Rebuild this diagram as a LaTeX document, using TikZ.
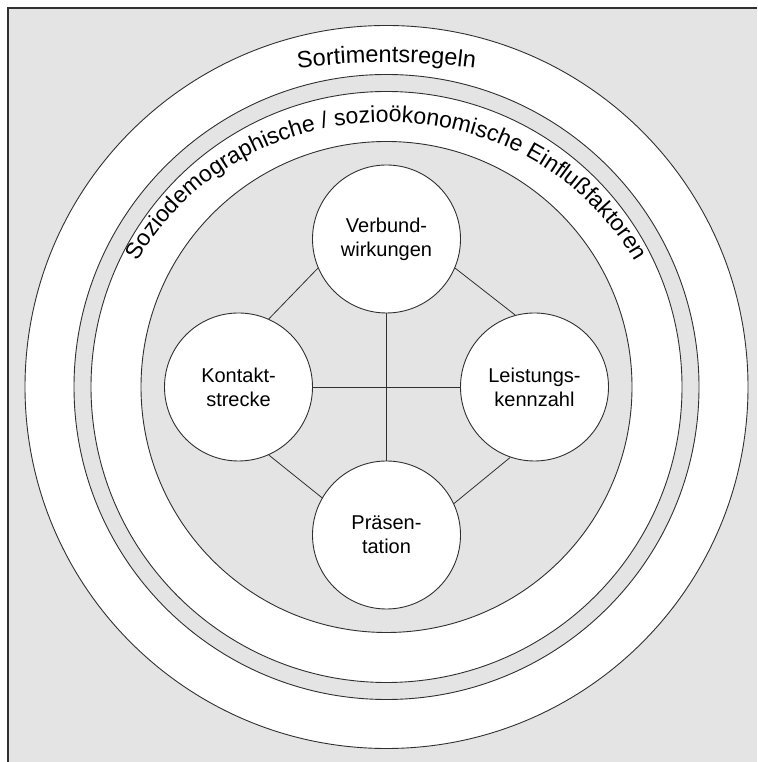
\documentclass[tikz,border=0pt]{standalone}
\usepackage{fontspec}
\setmainfont{Liberation Sans}
\usetikzlibrary{decorations.text}
\definecolor{panel}{HTML}{E4E4E4}
\definecolor{rim}{HTML}{303030}
\begin{document}
\begin{tikzpicture}[x=1pt,y=1pt,
  ring/.style={draw=rim, line width=0.9pt},
  topic/.style={circle, draw=rim, line width=0.9pt, fill=white,
    minimum size=148pt, inner sep=0pt, align=center,
    font=\fontsize{20}{24}\selectfont},
  link/.style={draw=rim, line width=0.8pt}]
\useasboundingbox (0,0) rectangle (757,762);
% grey panel with its left and top border
\fill[panel] (8,0) rectangle (757,754);
\draw[rim, line width=1.2pt] (8,0) -- (8,754) -- (757,754);
\coordinate (c) at (386.5,375);
% concentric rings
\draw[ring, fill=white] (c) circle[radius=361.5];
\draw[ring, fill=panel] (c) circle[radius=312.5];
\draw[ring, fill=white] (c) circle[radius=295.5];
\draw[ring, fill=panel] (c) circle[radius=245.5];
% ring captions
\path[decorate, decoration={text along path, text align=center,
  text={|\fontsize{23.5}{28}\selectfont|Sortimentsregeln}}]
  (386.5,-0.5) ++(100:700) arc[start angle=100, end angle=80, radius=700];
\path[decorate, decoration={text along path, text align=center,
  text={|\fontsize{23}{27}\selectfont|Soziodemographische / sozioökonomische Einflußfaktoren}}]
  (c) ++(170:282 and 265) arc[start angle=170, end angle=10, x radius=282, y radius=265];
% topic circles and their links
\node[topic] (verb)  at (386.5,523) {Verbund-\\wirkungen};
\node[topic] (kont)  at (238.5,375) {Kontakt-\\strecke};
\node[topic] (leist) at (534.5,375) {Leistungs-\\kennzahl};
\node[topic] (praes) at (386.5,227) {Präsen-\\tation};
\draw[link] (verb.south) -- (praes.north);
\draw[link] (kont.east) -- (leist.west);
\draw[link] (verb.203) -- (kont.66);
\draw[link] (verb.337) -- (leist.105);
\draw[link] (kont.294) -- (praes.150);
\draw[link] (leist.251) -- (praes.25);
\end{tikzpicture}
\end{document}
